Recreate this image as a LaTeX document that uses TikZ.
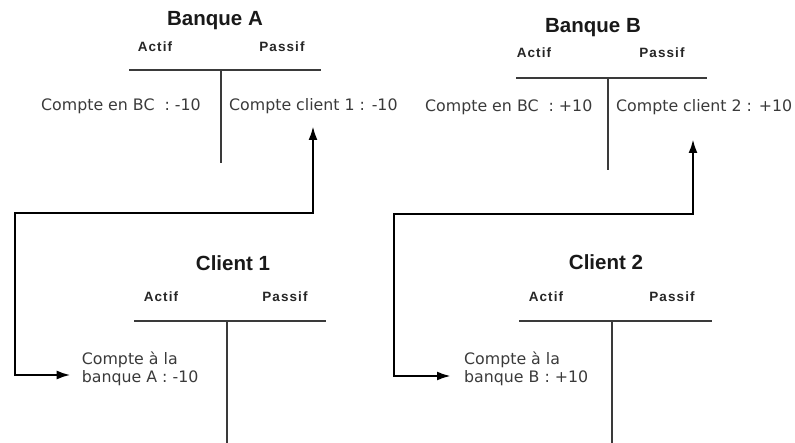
\documentclass[tikz,border=0pt]{standalone}
\usepackage{fontspec}
\setmainfont{DejaVu Sans}
\newfontfamily\headfont{Liberation Sans}
\newfontfamily\colfont[LetterSpace=8]{Liberation Sans}
\usetikzlibrary{arrows.meta}
\definecolor{inkgray}{HTML}{3A3A3A}

\begin{document}
\begin{tikzpicture}[x=1pt,y=-1pt,
  title/.style={font=\headfont\bfseries\fontsize{20.5}{22}\selectfont, text=black!90, anchor=base, inner sep=0},
  colhead/.style={font=\colfont\bfseries\fontsize{13.5}{15}\selectfont, text=black!85, anchor=base, inner sep=0},
  entry/.style={font=\fontsize{15.8}{18}\selectfont, text=inkgray, inner sep=0},
  tacct/.style={line width=2pt, draw=inkgray},
  flow/.style={line width=2.5pt, {Latex[length=14pt,width=9pt]}-{Latex[length=14pt,width=9pt]}}]
\useasboundingbox (0,0) rectangle (795,443);

\node[title] (bankA) at (215,26) {Banque A};
\node[colhead] (actA) at (155,52) {Actif};
\node[colhead] (pasA) at (282,52) {Passif};
\draw[tacct] (129,70) -- (321,70) (221,70) -- (221,163);
\node[entry, anchor=base west] (bcA) at (41,111) {Compte en BC\ \ : -10};
\node[entry, anchor=base west] (ccA) at (229,111) {Compte client 1 : -10};

\node[title] (bankB) at (593,33) {Banque B};
\node[colhead] (actB) at (534,58) {Actif};
\node[colhead] (pasB) at (662,58) {Passif};
\draw[tacct] (516,78) -- (707,78) (608,78) -- (608,170);
\node[entry, anchor=base west] (bcB) at (425,112) {Compte en BC\ \ : +10};
\node[entry, anchor=base west] (ccB) at (616,112) {Compte client 2 : +10};

\node[title] (cliA) at (233,271) {Client 1};
\node[colhead] (actC) at (161,302) {Actif};
\node[colhead] (pasC) at (285,302) {Passif};
\draw[tacct] (134,321) -- (326,321) (227,321) -- (227,443);
\node[entry, anchor=west, align=left] (bqA) at (81.7,369) {Compte à la\\banque A : -10};

\node[title] (cliB) at (606,270) {Client 2};
\node[colhead] (actD) at (546,302) {Actif};
\node[colhead] (pasD) at (672,302) {Passif};
\draw[tacct] (519,321) -- (712,321) (612,321) -- (612,443);
\node[entry, anchor=west, align=left] (bqB) at (464,369) {Compte à la\\banque B : +10};

\coordinate (tipA) at (313,126);
\coordinate (tipB) at (693,139);
\draw[flow] ([xshift=-11pt,yshift=-6pt]bqA.west) -| (15,213) -| (tipA);
\draw[flow] ([xshift=-13pt,yshift=-7pt]bqB.west) -| (394,214) -| (tipB);
\end{tikzpicture}
\end{document}
